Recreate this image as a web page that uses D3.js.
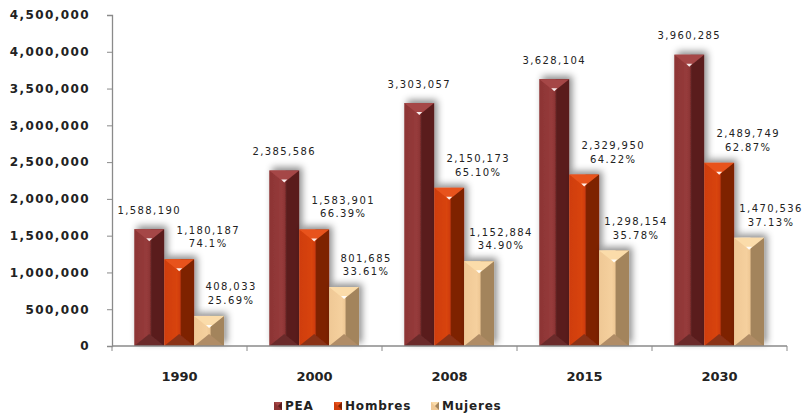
<!DOCTYPE html>
<html>
<head>
<meta charset="utf-8">
<script src="https://cdn.jsdelivr.net/npm/d3@7"></script>
<style>
  body { margin: 0; background: #fff; }
  .tick-label { font-family: "DejaVu Sans", Verdana, sans-serif; font-weight: bold; font-size: 12px; letter-spacing: 1.4px; fill: #222; }
  .year-label { font-family: "DejaVu Sans", Verdana, sans-serif; font-weight: bold; font-size: 13px; fill: #222; }
  .val-label { font-family: "DejaVu Sans", Verdana, sans-serif; font-size: 10px; letter-spacing: 1.4px; fill: #222; }
  .legend-label { font-family: "DejaVu Sans", Verdana, sans-serif; font-weight: bold; font-size: 12px; letter-spacing: 0.8px; fill: #222; }
</style>
</head>
<body>
<div id="chart"></div>
<script>
// chart data
var years = ['1990', '2000', '2008', '2015', '2030'];
var series = ['PEA', 'Hombres', 'Mujeres'];
var pea = [1588190, 2385586, 3303057, 3628104, 3960285];
var hombres = [1180187, 1583901, 2150173, 2329950, 2489749];
var mujeres = [408033, 801685, 1152884, 1298154, 1470536];
var hombresPct = ['74.1%', '66.39%', '65.10%', '64.22%', '62.87%'];
var mujeresPct = ['25.69%', '33.61%', '34.90%', '35.78%', '37.13%'];
var yTicks = [0, 500000, 1000000, 1500000, 2000000, 2500000, 3000000, 3500000, 4000000, 4500000];

var svgWidth = 805;
var svgHeight = 414;

// colors for each face of the bevelled bars
var colors = {
    'PEA': { left: '#8c3434', right: '#5a1f1f', top: '#a54646', bottom: '#6a2c2c', mid: '#963b3b' },
    'Hombres': { left: '#cf3d0c', right: '#7e2200', top: '#e8531c', bottom: '#8a3018', mid: '#d84410' },
    'Mujeres': { left: '#efc895', right: '#a3845c', top: '#fbdcaa', bottom: '#b08c66', mid: '#f5d09e' }
};

var svg = d3.select("#chart")
    .append("svg")
    .attr("width", svgWidth)
    .attr("height", svgHeight);

var defs = svg.append("defs");
var shadow = defs.append("filter")
    .attr("id", "shadow")
    .attr("x", "-60%").attr("y", "-30%")
    .attr("width", "220%").attr("height", "160%");
shadow.append("feDropShadow")
    .attr("dx", 3).attr("dy", -3)
    .attr("stdDeviation", 3.5)
    .attr("flood-color", "#000")
    .attr("flood-opacity", 0.45);

// horizontal gradients for the bar sides
series.forEach(s => {
    var g = defs.append("linearGradient")
        .attr("id", "grad-" + s)
        .attr("x1", "0%").attr("x2", "100%");
    g.append("stop").attr("offset", "0%").attr("stop-color", colors[s].left);
    g.append("stop").attr("offset", "42%").attr("stop-color", colors[s].mid);
    g.append("stop").attr("offset", "52%").attr("stop-color", colors[s].left);
    g.append("stop").attr("offset", "58%").attr("stop-color", colors[s].right);
    g.append("stop").attr("offset", "100%").attr("stop-color", colors[s].right);
});

// scales
var x0 = d3.scaleBand()
    .domain(years)
    .range([112, 787]);
var bw = x0.bandwidth();
var x1 = d3.scaleBand()
    .domain(series)
    .range([bw * 0.165, bw * 0.83]);
var y = d3.scaleLinear()
    .domain([0, 4500000])
    .range([346, 15]);

var fmt = d3.format(",");

// build rows
var rows = years.map((yr, i) => ({
    year: yr,
    bars: [
        { key: 'PEA', value: pea[i], pct: null },
        { key: 'Hombres', value: hombres[i], pct: hombresPct[i] },
        { key: 'Mujeres', value: mujeres[i], pct: mujeresPct[i] }
    ]
}));

// y axis
var yAxis = d3.axisLeft(y)
    .tickValues(yTicks)
    .tickSize(5)
    .tickPadding(17)
    .tickFormat(d => fmt(d));
var yAxisG = svg.append("g")
    .attr("transform", "translate(112,0)")
    .call(yAxis);
yAxisG.select(".domain").attr("stroke", "#8a8a8a").attr("stroke-width", 1.3);
yAxisG.selectAll(".tick line").attr("stroke", "#8a8a8a");
yAxisG.selectAll(".tick text").attr("class", "tick-label").attr("fill", null);

// bars
var groups = svg.selectAll(".year-group")
    .data(rows)
    .enter()
    .append("g")
    .attr("class", "year-group")
    .attr("transform", d => `translate(${x0(d.year)},0)`);

var bars = groups.selectAll(".bar")
    .data(d => d.bars)
    .enter()
    .append("g")
    .attr("class", "bar")
    .attr("filter", "url(#shadow)");

bars.append("rect")
    .attr("x", d => x1(d.key))
    .attr("y", d => y(d.value))
    .attr("width", x1.bandwidth())
    .attr("height", d => y(0) - y(d.value))
    .attr("fill", d => `url(#grad-${d.key})`);

var bev = 12;
// top bevel triangle
bars.append("path")
    .attr("d", d => {
        var l = x1(d.key), r = l + x1.bandwidth(), t = y(d.value), c = l + x1.bandwidth() / 2;
        return `M${l},${t}L${r},${t}L${c},${t + bev}Z`;
    })
    .attr("fill", d => colors[d.key].top);
// bottom bevel triangle
bars.append("path")
    .attr("d", d => {
        var l = x1(d.key), r = l + x1.bandwidth(), b = y(0), c = l + x1.bandwidth() / 2;
        return `M${l},${b}L${r},${b}L${c},${b - bev}Z`;
    })
    .attr("fill", d => colors[d.key].bottom);
// highlight dot
bars.append("path")
    .attr("d", d => {
        var c = x1(d.key) + x1.bandwidth() / 2, t = y(d.value) + bev;
        return `M${c - 3},${t - 3}L${c + 3},${t - 3}L${c},${t}Z`;
    })
    .attr("fill", "#fff")
    .attr("opacity", 0.9);

// value labels
groups.each(function (row) {
    var g = d3.select(this);
    row.bars.forEach(b => {
        var cx = x1(b.key) + x1.bandwidth() / 2;
        var top = y(b.value);
        if (b.key === 'PEA') {
            g.append("text")
                .attr("class", "val-label")
                .attr("x", cx)
                .attr("y", top - 19)
                .attr("text-anchor", "middle")
                .attr("dominant-baseline", "central")
                .text(fmt(b.value));
        } else {
            var dx = b.key === 'Hombres' ? 29 : 22;
            g.append("text")
                .attr("class", "val-label")
                .attr("x", cx + dx)
                .attr("y", top - 29)
                .attr("text-anchor", "middle")
                .attr("dominant-baseline", "central")
                .text(fmt(b.value));
            g.append("text")
                .attr("class", "val-label")
                .attr("x", cx + dx)
                .attr("y", top - 15.5)
                .attr("text-anchor", "middle")
                .attr("dominant-baseline", "central")
                .text(b.pct);
        }
    });
});

// x axis with ticks at category boundaries
var xAxisG = svg.append("g")
    .attr("transform", "translate(0,346)");
xAxisG.append("line")
    .attr("x1", 112).attr("x2", 787)
    .attr("stroke", "#8a8a8a").attr("stroke-width", 1.3);
xAxisG.selectAll(".xtick")
    .data(years.concat(['end']))
    .enter()
    .append("line")
    .attr("x1", d => d === 'end' ? 787 : x0(d))
    .attr("x2", d => d === 'end' ? 787 : x0(d))
    .attr("y1", 0).attr("y2", 5)
    .attr("stroke", "#8a8a8a");
xAxisG.selectAll(".year-label")
    .data(years)
    .enter()
    .append("text")
    .attr("class", "year-label")
    .attr("x", d => x0(d) + bw / 2)
    .attr("y", 30)
    .attr("text-anchor", "middle")
    .attr("dominant-baseline", "central")
    .text(d => d);

// legend
var legendX = [274, 334, 431];
var legend = svg.append("g").attr("transform", "translate(0,406)");
series.forEach((s, i) => {
    var lg = legend.append("g").attr("transform", `translate(${legendX[i]},0)`);
    lg.append("rect")
        .attr("x", 0).attr("y", -4)
        .attr("width", 8).attr("height", 8)
        .attr("fill", colors[s].left);
    lg.append("path")
        .attr("d", "M0,-4L8,-4L4,0Z")
        .attr("fill", colors[s].top);
    lg.append("path")
        .attr("d", "M8,-4L8,4L4,0Z")
        .attr("fill", colors[s].right);
    lg.append("text")
        .attr("class", "legend-label")
        .attr("x", 11)
        .attr("y", 0)
        .attr("dominant-baseline", "central")
        .text(s);
});
</script>
</body>
</html>
